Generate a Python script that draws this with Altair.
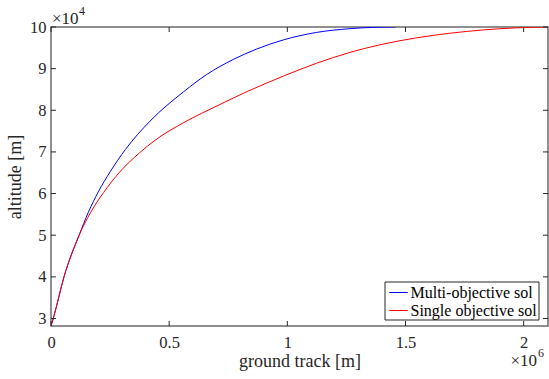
import altair as alt
import pandas as pd

# ground track in units of 1e6 m, altitude in units of 1e4 m
multi_x = [0, 0.011, 0.055, 0.119, 0.158, 0.200, 0.250, 0.315, 0.419, 0.560, 0.659, 0.771, 0.870, 0.983, 1.124, 1.265, 1.36, 1.458]
multi_y = [2.82, 3.03, 4.0, 5.0, 5.55, 6.04, 6.52, 7.06, 7.74, 8.44, 8.86, 9.22, 9.47, 9.69, 9.87, 9.96, 9.99, 10.0]

single_x = [0, 0.011, 0.055, 0.119, 0.168, 0.222, 0.288, 0.375, 0.44, 0.56, 0.715, 0.83, 0.983, 1.124, 1.265, 1.406, 1.547, 1.688, 1.829, 1.970, 2.103]
single_y = [2.82, 3.03, 4.0, 5.0, 5.55, 6.02, 6.5, 6.98, 7.28, 7.7, 8.14, 8.45, 8.82, 9.13, 9.39, 9.59, 9.74, 9.85, 9.93, 9.98, 10.0]

series_names = ["Multi-objective sol", "Single objective sol"]
series_colors = ["#0000ff", "#ff0000"]

x_ticks = [0, 0.5, 1, 1.5, 2]
y_ticks = [3, 4, 5, 6, 7, 8, 9, 10]

W, H = 497, 299
FONT = "Liberation Serif"
DARK = "#262626"

df = pd.DataFrame({
    "x": multi_x + single_x,
    "y": multi_y + single_y,
    "series": [series_names[0]] * len(multi_x) + [series_names[1]] * len(single_x),
    "order": list(range(len(multi_x))) + list(range(len(single_x))),
})

xscale = alt.Scale(domain=[0, 2.103], nice=False, zero=False)
yscale = alt.Scale(domain=[2.82, 10], nice=False, zero=False)

common = dict(labelFont=FONT, labelFontSize=16.5, labelColor=DARK,
              titleFont=FONT, titleFontSize=18, titleFontWeight="normal", titleColor=DARK,
              domain=False, ticks=False, grid=False, labelFlush=False, labelOverlap=False)

xaxis = alt.Axis(values=x_ticks, format="~g", title="ground track [m]", labelPadding=8,
                 titleY=40, titleBaseline="alphabetic", **common)
yaxis = alt.Axis(values=y_ticks, format="d", title="altitude [m]", labelPadding=5,
                 titleX=-31, titleY=H / 2, titleBaseline="alphabetic", titleAlign="center", **common)

lines = alt.Chart(df).mark_line(strokeWidth=1, interpolate="monotone", clip=True).encode(
    x=alt.X("x:Q", scale=xscale, axis=xaxis),
    y=alt.Y("y:Q", scale=yscale, axis=yaxis),
    color=alt.Color("series:N", scale=alt.Scale(domain=series_names, range=series_colors),
                    legend=alt.Legend(orient="none", legendX=333.5, legendY=254.5, title=None,
                                      symbolType="stroke", symbolSize=340, symbolStrokeWidth=1,
                                      labelFont=FONT, labelFontSize=16, labelColor="black",
                                      strokeColor=DARK, fillColor="white", padding=1,
                                      rowPadding=0, labelOffset=2, symbolOffset=3,
                                      cornerRadius=0, labelLimit=400)),
    order="order:Q",
)

xt = pd.DataFrame({"x": x_ticks})
yt = pd.DataFrame({"y": y_ticks})

tick_bottom = alt.Chart(xt).mark_rule(color=DARK, strokeWidth=1).encode(
    x=alt.X("x:Q", scale=xscale, axis=xaxis), y=alt.value(H), y2=alt.value(H - 5))
tick_top = alt.Chart(xt).mark_rule(color=DARK, strokeWidth=1).encode(
    x=alt.X("x:Q", scale=xscale, axis=xaxis), y=alt.value(0), y2=alt.value(5))
tick_left = alt.Chart(yt).mark_rule(color=DARK, strokeWidth=1).encode(
    y=alt.Y("y:Q", scale=yscale, axis=yaxis), x=alt.value(0), x2=alt.value(5))
tick_right = alt.Chart(yt).mark_rule(color=DARK, strokeWidth=1).encode(
    y=alt.Y("y:Q", scale=yscale, axis=yaxis), x=alt.value(W), x2=alt.value(W - 5))

def label(txt, x, y, size):
    return alt.Chart(pd.DataFrame({"t": [txt]})).mark_text(
        font=FONT, fontSize=size, color=DARK, align="left", baseline="alphabetic"
    ).encode(text="t:N", x=alt.value(x), y=alt.value(y))

exp_y_base = label("×10", 1, -3, 17)
exp_y_pow = label("4", 28, -12, 12)
exp_x_base = label("×10", 459.5, 339, 17)
exp_x_pow = label("6", 487, 330, 12)

chart = alt.layer(
    lines, tick_bottom, tick_top, tick_left, tick_right,
    exp_y_base, exp_y_pow, exp_x_base, exp_x_pow,
).properties(
    width=W, height=H,
    autosize=alt.AutoSizeParams(type="none"),
    padding={"left": 51, "top": 27, "right": 1, "bottom": 53},
    background="white",
).configure_view(
    stroke="#6b6b6b", strokeWidth=1.5
).configure_axis(
    domain=False, ticks=False, grid=False,
    labelFont=FONT, labelFontSize=16.5, labelColor=DARK,
    titleFont=FONT, titleFontSize=18, titleFontWeight="normal", titleColor=DARK,
    labelFlush=False, labelOverlap=False,
)

chart.save("out.html", embed_options={"renderer": "svg", "actions": False})
